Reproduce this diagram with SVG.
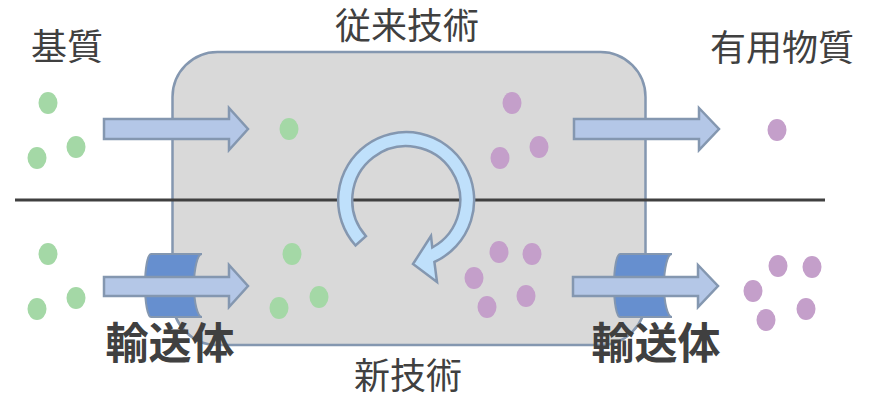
<svg xmlns="http://www.w3.org/2000/svg" width="869" height="396" viewBox="0 0 869 396">
<style>
.lbl{font-family:"Noto Sans CJK JP","Noto Sans",sans-serif;font-size:36px;fill:#404040;text-anchor:middle}
.bold{font-size:43px;font-weight:bold}
.arr{fill:#B4C7E7;stroke:#8497B0;stroke-width:2.5;stroke-linejoin:miter}
.trans{fill:#668FCF;stroke:#8497B0;stroke-width:2}
.g{fill:#A4D8A6}
.p{fill:#C49FCA}
</style>
<rect width="869" height="396" fill="#FFFFFF"/>
<g id="reactor">
<rect x="172.5" y="52" width="473" height="293" rx="45" ry="45" fill="#D9D9D9" stroke="#8497B0" stroke-width="2.5"/>
</g>
<g id="divider">
<line x1="15" y1="200" x2="825" y2="200" stroke="#404040" stroke-width="3"/>
</g>
<g id="cycle">
<path d="M355.5,245.5 A68,68 0 1 1 434.4,262 L437,282 L413,264 L431,236 L432.3,247.5 A54,54 0 1 0 365.9,236.1 Z" fill="#BFE0FB" stroke="#8497B0" stroke-width="2.5" stroke-linejoin="miter"/>
</g>
<g id="dots">
<ellipse class="g" cx="48" cy="103" rx="9.5" ry="11"/>
<ellipse class="g" cx="76" cy="147" rx="9.5" ry="11"/>
<ellipse class="g" cx="37" cy="158" rx="9.5" ry="11"/>
<ellipse class="g" cx="289" cy="129" rx="9.5" ry="11"/>
<ellipse class="g" cx="48" cy="254" rx="9.5" ry="11"/>
<ellipse class="g" cx="76" cy="298" rx="9.5" ry="11"/>
<ellipse class="g" cx="37" cy="309" rx="9.5" ry="11"/>
<ellipse class="g" cx="292" cy="254" rx="9.5" ry="11"/>
<ellipse class="g" cx="319" cy="297" rx="9.5" ry="11"/>
<ellipse class="g" cx="279" cy="308" rx="9.5" ry="11"/>
<ellipse class="p" cx="512" cy="103" rx="9.5" ry="11"/>
<ellipse class="p" cx="539" cy="147" rx="9.5" ry="11"/>
<ellipse class="p" cx="500" cy="158" rx="9.5" ry="11"/>
<ellipse class="p" cx="777" cy="130" rx="9.5" ry="11"/>
<ellipse class="p" cx="499" cy="252" rx="9.5" ry="11"/>
<ellipse class="p" cx="532" cy="254" rx="9.5" ry="11"/>
<ellipse class="p" cx="474" cy="278" rx="9.5" ry="11"/>
<ellipse class="p" cx="526" cy="296" rx="9.5" ry="11"/>
<ellipse class="p" cx="487" cy="307" rx="9.5" ry="11"/>
<ellipse class="p" cx="778" cy="266" rx="9.5" ry="11"/>
<ellipse class="p" cx="812" cy="267" rx="9.5" ry="11"/>
<ellipse class="p" cx="753" cy="291" rx="9.5" ry="11"/>
<ellipse class="p" cx="806" cy="309" rx="9.5" ry="11"/>
<ellipse class="p" cx="766" cy="320" rx="9.5" ry="11"/>
</g>
<g id="transporter-left">
<path class="trans" d="M151,254 H202 A8,31.5 0 0 0 202,317 H151 A6,31.5 0 0 1 151,254 Z"/>
</g>
<g id="transporter-right">
<path class="trans" d="M620,254 H672 A8,31.5 0 0 0 672,317 H620 A6,31.5 0 0 1 620,254 Z"/>
</g>
<g id="connectors">
<polygon class="arr" points="104,119 229,119 229,108 248,129 229,150 229,139 104,139"/>
<polygon class="arr" points="574,119 699,119 699,108 719,129 699,150 699,139 574,139"/>
<polygon class="arr" points="104,277 229,277 229,265 248,286 229,307 229,296 104,296"/>
<polygon class="arr" points="573,277 698,277 698,265 718,286 698,307 698,296 573,296"/>
</g>
<g id="labels">
<text class="lbl" x="67" y="60">基質</text>
<text class="lbl" x="407" y="39">従来技術</text>
<text class="lbl" x="782" y="61">有用物質</text>
<text class="lbl" x="408" y="389">新技術</text>
<text class="lbl bold" x="170" y="359">輸送体</text>
<text class="lbl bold" x="656" y="359">輸送体</text>
</g>
</svg>
